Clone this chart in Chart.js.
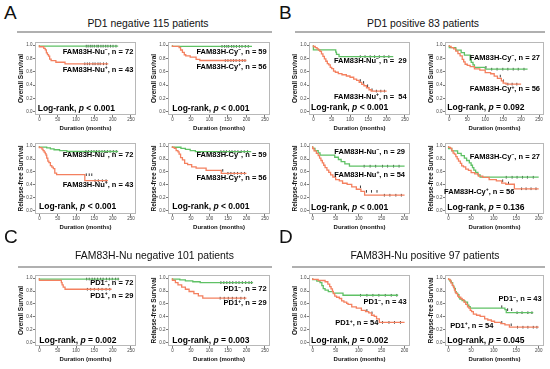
<!DOCTYPE html>
<html><head><meta charset="utf-8">
<script src="https://cdn.jsdelivr.net/npm/chart.js@4"></script>
<style>
body{margin:0;background:#fff;}
#fig{position:relative;width:550px;height:369px;overflow:hidden;background:#fff;font-family:"Liberation Sans",Arial,sans-serif;}
canvas{position:absolute;}
.t{position:absolute;white-space:nowrap;line-height:1;transform:translateY(-50%);color:#000;}
.n{font-weight:bold;font-size:7.5px;}
.lr{font-weight:bold;font-size:8.5px;}
.lr i{font-style:italic;}
.sup{font-size:5px;position:relative;top:-2.6px;}
.ttl{font-size:10.4px;transform:translate(-50%,-50%);color:#111;}
.let{font-size:19px;transform:none;color:#111;}
.rule{position:absolute;height:1.5px;background:#b0b0b0;}
</style></head><body><div id="fig"></div>
<script>
// ---------- tick labels ----------
const X250 = [0, 50, 100, 150, 200, 250];
const X200 = [0, 50, 100, 150, 200];
const YTICKS = [0, 0.2, 0.4, 0.6, 0.8, 1.0];

// ---------- survival steps [months, survival] ----------
// A: PD1 negative, OS
const a1Neg = [[0,1],[65,0.986],[215,0.986]];
const a1Pos = [[0,1],[12,0.977],[16,0.953],[19,0.93],[22,0.884],[25,0.86],[28,0.837],[32,0.79],[45,0.767],[70,0.744],[106,0.72],[188,0.72]];
const a2Neg = [[0,1],[95,0.983],[215,0.983]];
const a2Pos = [[0,1],[18,0.982],[22,0.964],[27,0.928],[32,0.893],[36,0.857],[48,0.839],[64,0.821],[74,0.786],[140,0.77],[200,0.77]];
// B: PD1 positive, OS
const b1Neg = [[0,1],[61,0.931],[63,0.897],[70,0.862],[101,0.828],[218,0.828]];
const b1Pos = [[0,1],[5,0.981],[10,0.963],[14,0.944],[18,0.926],[22,0.907],[26,0.87],[30,0.833],[34,0.796],[38,0.759],[42,0.722],[46,0.704],[50,0.667],[55,0.648],[60,0.611],[68,0.593],[78,0.574],[90,0.556],[100,0.537],[110,0.518],[118,0.49],[125,0.47],[132,0.44],[138,0.41],[145,0.39],[152,0.36],[158,0.33],[165,0.31],[200,0.31]];
const b2Neg = [[0,1],[18,0.963],[33,0.926],[42,0.889],[58,0.852],[61,0.778],[66,0.741],[70,0.704],[100,0.667],[106,0.64],[218,0.64]];
const b2Pos = [[0,1],[5,0.982],[12,0.964],[18,0.946],[24,0.911],[30,0.875],[36,0.839],[40,0.786],[44,0.75],[50,0.714],[58,0.696],[70,0.679],[85,0.643],[100,0.625],[115,0.589],[125,0.571],[134,0.536],[145,0.5],[150,0.464],[158,0.43],[162,0.415],[200,0.415]];
// A: PD1 negative, RFS
const a3Neg = [[0,1],[20,0.986],[30,0.972],[40,0.958],[55,0.944],[75,0.93],[95,0.917],[215,0.917]];
const a3Pos = [[0,1],[7,0.977],[10,0.953],[13,0.93],[16,0.907],[18,0.884],[20,0.86],[23,0.814],[26,0.767],[30,0.744],[34,0.698],[38,0.674],[42,0.651],[47,0.581],[124,0.558],[148,0.465],[187,0.465]];
const a4Neg = [[0,1],[23,0.983],[35,0.966],[48,0.949],[62,0.932],[75,0.915],[213,0.915]];
const a4Pos = [[0,1],[5,0.982],[10,0.964],[15,0.929],[18,0.911],[22,0.875],[27,0.821],[33,0.786],[41,0.732],[52,0.714],[64,0.679],[91,0.661],[132,0.625],[145,0.58],[200,0.58]];
// B: PD1 positive, RFS
const b3Neg = [[0,1],[5,0.966],[12,0.931],[16,0.897],[48,0.862],[56,0.828],[62,0.793],[70,0.759],[80,0.724],[92,0.69],[200,0.69]];
const b3Pos = [[0,1],[3,0.963],[8,0.926],[12,0.889],[15,0.852],[18,0.815],[21,0.778],[24,0.741],[27,0.704],[31,0.667],[35,0.63],[39,0.593],[44,0.556],[50,0.519],[58,0.481],[65,0.463],[75,0.426],[85,0.407],[95,0.37],[105,0.333],[113,0.3],[148,0.241],[200,0.241]];
const b4Neg = [[0,1],[7,0.963],[20,0.926],[28,0.889],[35,0.852],[40,0.815],[46,0.778],[50,0.741],[53,0.704],[56,0.667],[60,0.63],[65,0.593],[70,0.556],[76,0.519],[200,0.519]];
const b4Pos = [[0,1],[4,0.982],[7,0.964],[10,0.929],[13,0.893],[16,0.875],[19,0.839],[22,0.804],[26,0.768],[29,0.732],[33,0.696],[38,0.679],[44,0.643],[50,0.625],[58,0.589],[66,0.571],[76,0.536],[90,0.518],[106,0.482],[118,0.464],[127,0.429],[146,0.41],[153,0.34],[200,0.34]];
// C: FAM83H-Nu negative
const c1Neg = [[0,1],[69,0.986],[218,0.986]];
const c1Pos = [[0,1],[60,0.966],[62,0.931],[65,0.897],[70,0.862],[100,0.828],[197,0.828]];
const c2Neg = [[0,1],[20,0.986],[35,0.972],[55,0.958],[75,0.944],[100,0.931],[218,0.931]];
const c2Pos = [[0,1],[8,0.966],[15,0.931],[25,0.897],[35,0.862],[45,0.828],[58,0.793],[70,0.759],[82,0.724],[95,0.69],[200,0.69]];
// D: FAM83H-Nu positive
const d1Neg = [[0,1],[9,0.977],[16,0.953],[20,0.93],[23,0.884],[27,0.837],[34,0.814],[45,0.791],[66,0.767],[87,0.735],[186,0.735]];
const d1Pos = [[0,1],[12,0.981],[27,0.963],[33,0.944],[37,0.907],[40,0.87],[43,0.833],[45,0.796],[48,0.759],[52,0.722],[58,0.704],[63,0.685],[68,0.648],[74,0.63],[77,0.611],[85,0.593],[95,0.556],[106,0.537],[115,0.5],[122,0.481],[128,0.463],[134,0.426],[139,0.407],[145,0.37],[150,0.315],[200,0.315]];
const d2Neg = [[0,1],[3,0.977],[6,0.953],[9,0.93],[11,0.884],[13,0.86],[15,0.837],[17,0.791],[20,0.767],[23,0.744],[25,0.698],[30,0.674],[36,0.651],[42,0.628],[45,0.581],[48,0.558],[125,0.535],[128,0.512],[149,0.465],[188,0.465]];
const d2Pos = [[0,1],[3,0.981],[5,0.963],[8,0.926],[11,0.889],[13,0.852],[15,0.815],[17,0.778],[20,0.759],[23,0.722],[27,0.704],[30,0.685],[34,0.667],[38,0.63],[42,0.593],[45,0.556],[48,0.537],[51,0.5],[55,0.481],[62,0.444],[70,0.426],[80,0.407],[87,0.37],[95,0.352],[102,0.333],[116,0.315],[125,0.296],[135,0.278],[149,0.241],[200,0.241]];

// ---------- censoring times (months) ----------
const a1NegC = [128,133,139,144,150,157,161,168,174,181,187,194,201,209];
const a1PosC = [124,131,137,146,152,160,166,175,183];
const a2NegC = [134,141,147,152,160,166,173,181,188,197,205];
const a2PosC = [143,150,158,165,172,181,189,196];
const b1NegC = [128,141,155,167,180,193,206];
const b1PosC = [128,137,148,160,172,184,194];
const b2NegC = [102,118,133,149,163,178,192,208];
const b2PosC = [142,151,163,175,188];
const a3NegC = [127,134,142,149,156,163,171,178,186,193,202,210];
const a3PosC = [128,136,143,152,161,172,182];
const a4NegC = [131,139,146,154,161,169,177,186,194,203];
const a4PosC = [136,150,158,167,176,186,195];
const b3NegC = [112,125,137,152,163,176,188];
const b3PosC = [104,117,128,140,156,168,181,193];
const b4NegC = [128,141,152,164,175,188];
const b4PosC = [120,133,162,172,183,194];
const c1NegC = [129,136,144,151,159,167,174,183,191,199,208,215];
const c1PosC = [131,140,150,161,171,182,192];
const c2NegC = [131,139,147,155,163,172,180,189,198,207,214];
const c2PosC = [129,140,151,162,173,185,195];
const d1NegC = [104,118,131,144,158,171,183];
const d1PosC = [118,129,152,166,178,191];
const d2NegC = [118,131,140,152,163,176,185];
const d2PosC = [118,139,153,165,176,188,196];

const GREEN = '#5fc165', RED = '#f4805f', CENS = '#222';
Chart.defaults.font.family = '"Liberation Sans", Arial, sans-serif';
const fig = document.getElementById('fig');

function stepAt(curve, t){ let v = curve[0][1]; for (const [x,y] of curve){ if (x <= t) v = y; } return v; }

const boxPlugin = {id:'box', afterDraw(c){ const a=c.chartArea, ctx=c.ctx; ctx.save(); ctx.strokeStyle='#b8b8b8'; ctx.lineWidth=1;
  ctx.strokeRect(Math.round(a.left)+0.5, Math.round(a.top)+0.5, Math.round(a.right-a.left)-1, Math.round(a.bottom-a.top)-1); ctx.restore(); }};

const COLS = [[35,137],[168,271],[309,411],[445,545]];
const ROWS = [[40,115],[141,214],[273,346]];

const sup = s => '<span class="sup">'+s+'</span>';
const plots = [
 {col:0,row:0,xr:250,yt:'Overall Survival',neg:a1Neg,pos:a1Pos,negC:a1NegC,posC:a1PosC},
 {col:1,row:0,xr:250,yt:'Overall Survival',neg:a2Neg,pos:a2Pos,negC:a2NegC,posC:a2PosC},
 {col:2,row:0,xr:250,yt:'Overall Survival',neg:b1Neg,pos:b1Pos,negC:b1NegC,posC:b1PosC},
 {col:3,row:0,xr:250,yt:'Overall Survival',neg:b2Neg,pos:b2Pos,negC:b2NegC,posC:b2PosC},
 {col:0,row:1,xr:250,yt:'Relapse-free Survival',neg:a3Neg,pos:a3Pos,negC:a3NegC,posC:a3PosC},
 {col:1,row:1,xr:250,yt:'Relapse-free Survival',neg:a4Neg,pos:a4Pos,negC:a4NegC,posC:a4PosC},
 {col:2,row:1,xr:200,yt:'Relapse-free Survival',neg:b3Neg,pos:b3Pos,negC:b3NegC,posC:b3PosC},
 {col:3,row:1,xr:200,yt:'Relapse-free Survival',neg:b4Neg,pos:b4Pos,negC:b4NegC,posC:b4PosC},
 {col:0,row:2,xr:250,yt:'Overall Survival',neg:c1Neg,pos:c1Pos,negC:c1NegC,posC:c1PosC},
 {col:1,row:2,xr:250,yt:'Relapse-free Survival',neg:c2Neg,pos:c2Pos,negC:c2NegC,posC:c2PosC},
 {col:2,row:2,xr:200,yt:'Overall Survival',neg:d1Neg,pos:d1Pos,negC:d1NegC,posC:d1PosC},
 {col:3,row:2,xr:200,yt:'Relapse-free Survival',neg:d2Neg,pos:d2Pos,negC:d2NegC,posC:d2PosC},
];

function makePlot(p){
  const [l,r] = COLS[p.col], [t,b] = ROWS[p.row];
  const YW=22, PT=3, PR=4, XH=18;
  const cv = document.createElement('canvas');
  const W = r-l+YW+PR, H = b-t+PT+XH;
  cv.width=W; cv.height=H; cv.style.left=(l-YW)+'px'; cv.style.top=(t-PT)+'px';
  fig.appendChild(cv);
  const xt = p.xr===250 ? X250 : X200;
  const line = (d,c) => ({type:'line', data:d.map(([x,y])=>({x,y})), borderColor:c, borderWidth:1.3, stepped:'after', pointRadius:0, fill:false});
  const cens = (times,curve) => ({type:'scatter', data:times.map(x=>({x, y:stepAt(curve,x)})), pointStyle:'line', rotation:90, pointRadius:1.3,
      borderColor:CENS, backgroundColor:CENS, pointBorderColor:CENS, pointBackgroundColor:CENS, pointBorderWidth:0.9, borderWidth:0.9, showLine:false});
  new Chart(cv, {
    type:'line',
    data:{datasets:[line(p.pos,RED), line(p.neg,GREEN), cens(p.posC,p.pos), cens(p.negC,p.neg)]},
    options:{
      animation:false, responsive:false, events:[],
      layout:{padding:{left:0,top:PT,right:PR,bottom:0}},
      plugins:{legend:{display:false}, tooltip:{enabled:false}},
      scales:{
        x:{type:'linear', min:p.xr===250?-12:-8, max:p.xr===250?264:212,
           afterBuildTicks:s=>{s.ticks = xt.map(v=>({value:v}));},
           afterFit:s=>{s.height=XH; s.paddingLeft=0; s.paddingRight=0;},
           ticks:{font:{size:4.5}, color:'#444', padding:0.5, maxRotation:0, autoSkip:false},
           grid:{drawOnChartArea:false, tickLength:2, color:'#777'}, border:{display:false},
           title:{display:true, text:'Duration (months)', font:{size:6, weight:'bold'}, color:'#111', padding:{top:0,bottom:1.5}}},
        y:{type:'linear', min:-0.05, max:1.05,
           afterBuildTicks:s=>{s.ticks = YTICKS.map(v=>({value:v}));},
           afterFit:s=>{s.width=YW; s.paddingTop=0; s.paddingBottom=0;},
           ticks:{font:{size:4.5}, color:'#444', padding:0.5, callback:v=>Number(v).toFixed(1)},
           grid:{drawOnChartArea:false, tickLength:2, color:'#777'}, border:{display:false},
           title:{display:true, text:p.yt, font:{size:6.5, weight:'bold'}, color:'#111', padding:{top:4,bottom:0}}}
      }
    },
    plugins:[boxPlugin]
  });
}
plots.forEach(makePlot);

// ---------- text ----------
function txt(html, cls, pos){ const d=document.createElement('div'); d.className='t '+cls; d.innerHTML=html;
  for (const k in pos) d.style[k]=pos[k]+'px'; fig.appendChild(d); }
const NEG='−', POS='+';
// panel letters and titles
txt('A','let',{left:4,top:2.5}); txt('B','let',{left:279,top:2.5});
txt('C','let',{left:4,top:227}); txt('D','let',{left:279,top:227});
txt('PD1 negative 115 patients','ttl',{left:148,top:24});
txt('PD1 positive 83 patients','ttl',{left:423,top:24});
txt('FAM83H-Nu negative 101 patients','ttl',{left:154.5,top:255.5});
txt('FAM83H-Nu positive 97 patients','ttl',{left:425,top:255.5});
[[17,31.3,255],[295,31.3,250],[18,266,254],[292,266,253]].forEach(([x,y,w])=>{const d=document.createElement('div');d.className='rule';d.style.left=x+'px';d.style.top=y+'px';d.style.width=w+'px';fig.appendChild(d);});

const R = x => 550 - x;
const nlab = [
 ['FAM83H-Nu'+sup(NEG)+', n = 72', 133.3, 51.7], ['FAM83H-Nu'+sup(POS)+', n = 43', 133.3, 70],
 ['FAM83H-Cy'+sup(NEG)+', n = 59', 266.7, 51.7], ['FAM83H-Cy'+sup(POS)+', n = 56', 266.7, 66.7],
 ['FAM83H-Nu'+sup(NEG)+', n =&nbsp; 29', 406.7, 61], ['FAM83H-Nu'+sup(POS)+', n =&nbsp; 54', 406.7, 96.7],
 ['FAM83H-Cy'+sup(NEG)+', n = 27', 540, 57.7], ['FAM83H-Cy'+sup(POS)+', n = 56', 540, 89.3],
 ['FAM83H-Nu'+sup(NEG)+', n = 72', 133.3, 155], ['FAM83H-Nu'+sup(POS)+', n = 43', 133.3, 185],
 ['FAM83H-Cy'+sup(NEG)+', n = 59', 266.7, 155], ['FAM83H-Cy'+sup(POS)+', n = 56', 266.7, 178.3],
 ['FAM83H-Nu'+sup(NEG)+', n = 29', 405, 151.7], ['FAM83H-Nu'+sup(POS)+', n = 54', 405, 175],
 ['FAM83H-Cy'+sup(NEG)+', n = 27', 540, 156.7], ['FAM83H-Cy'+sup(POS)+', n = 56', 514.3, 191.7],
 ['PD1'+sup(NEG)+', n = 72', 133.3, 283.3], ['PD1'+sup(POS)+', n = 29', 133.3, 296],
 ['PD1'+sup(NEG)+', n = 72', 266.7, 289.3], ['PD1'+sup(POS)+', n = 29', 266.7, 303.3],
 ['PD1'+sup(NEG)+', n = 43', 406.7, 302.3], ['PD1'+sup(POS)+', n = 54', 378.3, 323.3],
 ['PD1'+sup(NEG)+', n = 43', 541.7, 299.3], ['PD1'+sup(POS)+', n = 54', 493.3, 326],
];
nlab.forEach(([h,xr,cy])=>txt(h,'n',{right:R(xr),top:cy}));
const lr = [
 ['&lt; 0.001',37.7,108.3],['&lt; 0.001',172.3,108.3],['&lt; 0.001',311,107.3],['= 0.092',447.3,107.3],
 ['&lt; 0.001',39,206],['&lt; 0.001',172.3,206],['&lt; 0.001',311,207.3],['= 0.136',447.3,207.3],
 ['= 0.002',39.3,340],['= 0.003',172.3,340],['= 0.002',311,340],['= 0.045',447.3,340],
];
lr.forEach(([v,x,cy])=>txt('Log-rank, <i>p</i> '+v,'lr',{left:x,top:cy}));
</script></body></html>
